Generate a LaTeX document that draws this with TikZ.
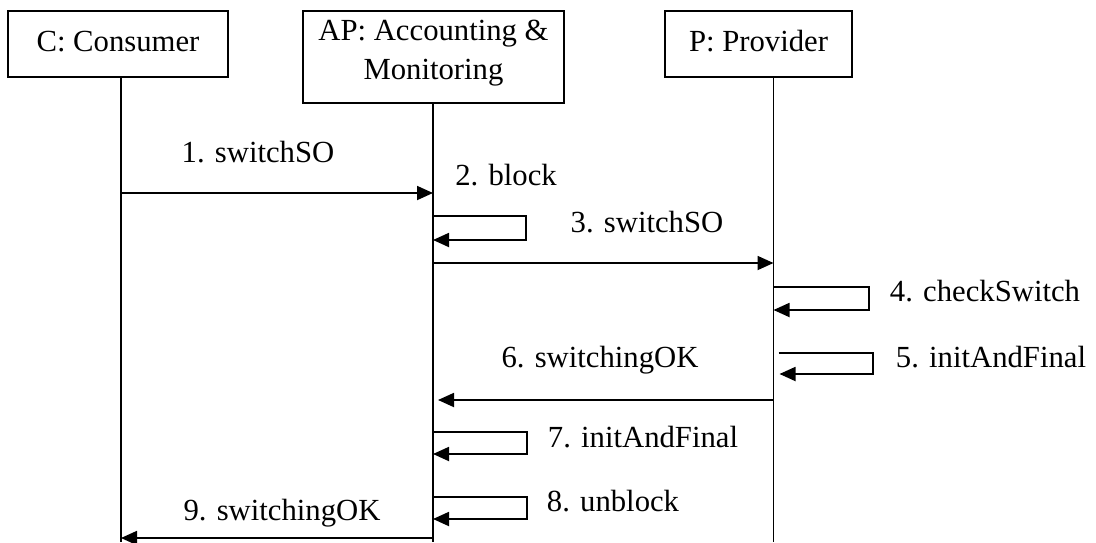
\documentclass[tikz,border=0pt]{standalone}
\usepackage{fontspec}
\setmainfont{Liberation Serif}
\usetikzlibrary{arrows.meta,calc}
\begin{document}
\begin{tikzpicture}[x=1pt,y=-1pt,
  every node/.style={font=\fontsize{30.7}{39}\selectfont},
  box/.style={draw, line width=1.8pt, inner sep=0pt, text height=14pt, text depth=0pt},
  lifeline/.style={line width=1.8pt},
  msg/.style={line width=1.8pt, -{Triangle[length=16pt,width=14pt]}},
  lbl/.style={anchor=base, inner sep=0pt}]
\useasboundingbox (0,0) rectangle (1096,542);
% participants
\node[box, minimum width=220pt, minimum height=66pt] (C) at (118,44) {C: Consumer};
\node[box, minimum width=261pt, minimum height=92pt, align=center, text height=44pt, text depth=0pt] (AP) at (433.5,57) {AP: Accounting \&\\Monitoring};
\node[box, minimum width=187pt, minimum height=66pt] (P) at (758.5,44) {P: Provider};
% lifelines
\coordinate (Cb) at (121,542);
\coordinate (APb) at (433,542);
\coordinate (Pb) at (773.5,542);
\draw[lifeline] (C.south -| Cb) -- (Cb);
\draw[lifeline] (AP.south -| APb) -- (APb);
\draw[lifeline] (P.south -| Pb) -- (Pb);
% messages
\draw[msg] (Cb |- 0,193) -- (APb |- 0,193);
\draw[msg] (APb |- 0,216) -| (526,240) -- (APb |- 0,240);
\draw[msg] (APb |- 0,263) -- (Pb |- 0,263);
\draw[msg] (Pb |- 0,287) -| (869,310) -- (Pb |- 0,310);
\draw[msg] ($(Pb |- 0,353)+(5,0)$) -| (873,374) -- ($(Pb |- 0,374)+(6,0)$);
\draw[msg] (Pb |- 0,400) -- ($(APb |- 0,400)+(5,0)$);
\draw[msg] (APb |- 0,432) -| (527,454) -- (APb |- 0,454);
\draw[msg] (APb |- 0,497) -| (527,519) -- (APb |- 0,519);
\draw[msg] (APb |- 0,538) -- (Cb |- 0,538);
% labels
\node[lbl] (m1) at (258,162) {1. switchSO};
\node[lbl] (m2) at (506,185) {2. block};
\node[lbl] (m3) at (647,232) {3. switchSO};
\node[lbl] (m4) at (985,301) {4. checkSwitch};
\node[lbl] (m5) at (991,367) {5. initAndFinal};
\node[lbl] (m6) at (600,367) {6. switchingOK};
\node[lbl] (m7) at (643,447) {7. initAndFinal};
\node[lbl] (m8) at (613,511) {8. unblock};
\node[lbl] (m9) at (282,520) {9. switchingOK};
\end{tikzpicture}
\end{document}
